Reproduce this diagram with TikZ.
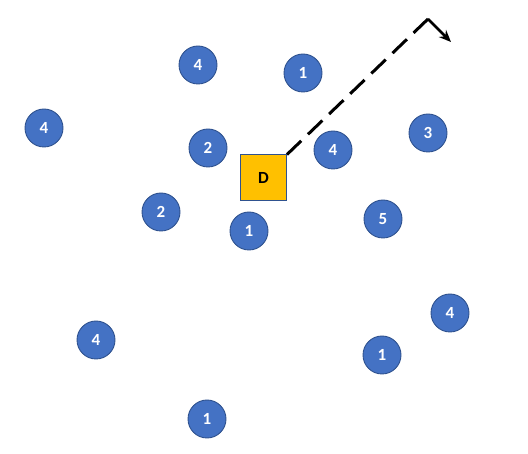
\documentclass[tikz,border=0pt]{standalone}
\usepackage{fontspec}
\setmainfont{Carlito}
\usepackage{xcolor}
\usetikzlibrary{arrows.meta}

\definecolor{dotblue}{HTML}{4472C4}
\definecolor{dotedge}{HTML}{2F528F}
\definecolor{depotyellow}{HTML}{FFC000}

\tikzset{
    stop/.style={circle, fill=dotblue, draw=dotedge, line width=0.9pt, minimum size=38pt, inner sep=0pt, text=white, font=\fontsize{17}{17}\selectfont\bfseries},
    depot/.style={rectangle, fill=depotyellow, draw=dotedge, line width=1pt, minimum width=46pt, minimum height=46pt, inner sep=0pt, font=\fontsize{17}{17}\selectfont\bfseries}
}

\begin{document}
\begin{tikzpicture}[x=1pt, y=-1pt]
    \useasboundingbox (0,0) rectangle (528,454);

    % the depot
    \node[depot] (D) at (263.5,178) {D};

    % customers and their demands
    \node[stop] (c1) at (198,65) {4};
    \node[stop] (c2) at (303,73) {1};
    \node[stop] (c3) at (44,128) {4};
    \node[stop] (c4) at (208,148) {2};
    \node[stop] (c5) at (333,150) {4};
    \node[stop] (c6) at (428,133) {3};
    \node[stop] (c7) at (161,212) {2};
    \node[stop] (c8) at (249,231) {1};
    \node[stop] (c9) at (383,219) {5};
    \node[stop] (c10) at (450,313) {4};
    \node[stop] (c11) at (96,340) {4};
    \node[stop] (c12) at (382,355) {1};
    \node[stop] (c13) at (207,419) {1};

    % route leaving the depot
    \coordinate (turn) at (428,19);
    \coordinate (tip) at (451,42);
    \draw[line width=3pt, dash pattern=on 20pt off 9.3pt] (turn) -- (D.north east);
    \draw[line width=2.6pt, -{Stealth[length=12pt, width=10pt]}] (turn) -- (tip);
\end{tikzpicture}
\end{document}
